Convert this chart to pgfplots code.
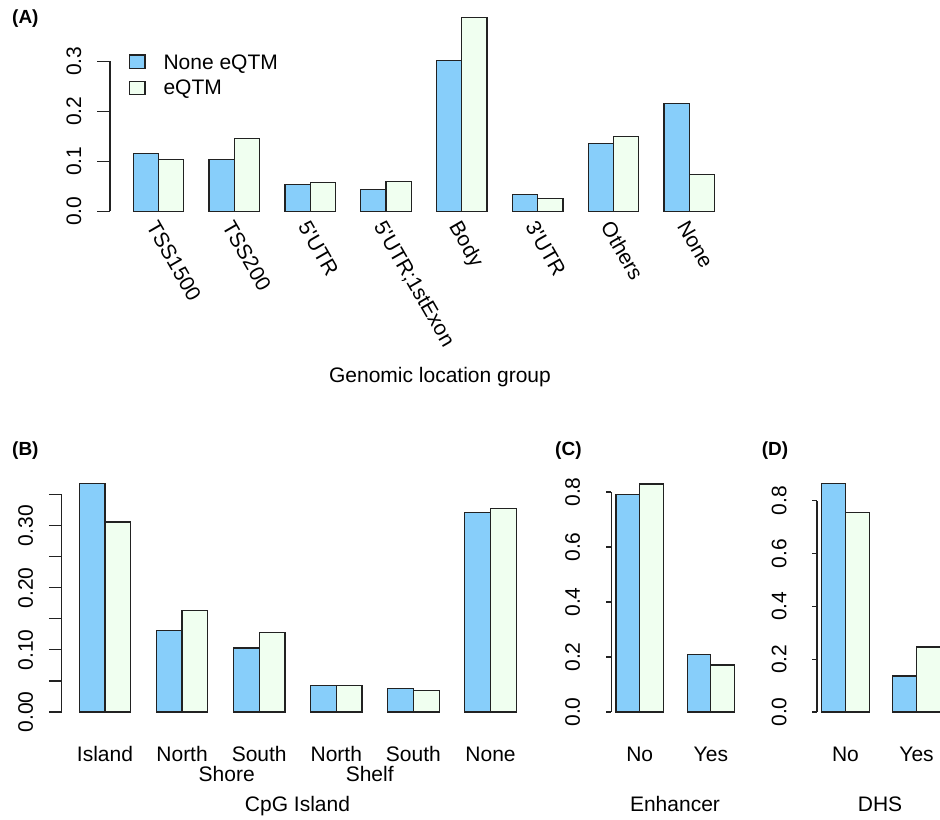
\documentclass[border=0pt]{standalone}
\usepackage{pgfplots}
\pgfplotsset{compat=1.18}
\usepackage{fontspec}
\newfontfamily\hv{Liberation Sans}
\definecolor{skyb}{HTML}{87CEFA}
\definecolor{honey}{HTML}{F0FFF0}
\definecolor{edge}{HTML}{222222}
\newcommand\fnt{\hv\fontsize{21bp}{25bp}\selectfont}
\pgfplotsset{
  base/.style={
    scale only axis, anchor=south west,
    axis lines*=left, axis line style={draw=none},
    xtick style={draw=none},
    ytick align=outside,
    ytick style={line width=1.2bp, draw=edge},
    clip=false,
    yticklabel style={rotate=90, anchor=south, inner sep=0pt},
    tick label style={font=\fnt},
    ybar, bar width=1, bar shift=0pt,
    every axis plot/.append style={draw=edge, line width=1.2bp},
  },
  blue/.style={fill=skyb},
  green/.style={fill=honey},
}
\begin{document}
\fnt
\begin{tikzpicture}[x=1bp,y=1bp]
\useasboundingbox (0,0) rectangle (940,820);

% ---------------- Panel A ----------------
\begin{axis}[base,
  at={(110bp,601bp)}, width=627.8bp, height=208.9bp,
  xmin=0.08, xmax=24.92, ymin=-0.0155, ymax=0.4025,
  ytick={0,0.1,0.2,0.3}, yticklabels={0.0,0.1,0.2,0.3},
  major tick length=13bp,
  yticklabel shift=15.5bp,
  xticklabel shift=-13bp,
  xtick={2,5,8,11,14,17,20,23},
  xticklabels={TSS1500,TSS200,5'UTR,5'UTR;1stExon,Body,3'UTR,Others,None},
  xticklabel style={rotate=-60, anchor=north west, inner sep=0pt},
]
\addplot[blue] coordinates {(1.5,0.115) (4.5,0.104) (7.5,0.053) (10.5,0.043) (13.5,0.302) (16.5,0.033) (19.5,0.135) (22.5,0.215)};
\addplot[green] coordinates {(2.5,0.104) (5.5,0.145) (8.5,0.058) (11.5,0.059) (14.5,0.387) (17.5,0.025) (20.5,0.149) (23.5,0.074)};
\draw[line width=1.2bp, edge] (axis cs:0.08,0) -- (axis cs:0.08,0.3);
\end{axis}

% ---------------- Panel B ----------------
\begin{axis}[base,
  at={(61.8bp,98.9bp)}, width=471.9bp, height=246.6bp,
  xmin=0.32, xmax=18.68, ymin=-0.0147, ymax=0.3824,
  ytick={0,0.05,0.10,0.15,0.20,0.25,0.30,0.35},
  yticklabels={0.00,,0.10,,0.20,,0.30,},
  major tick length=13bp,
  yticklabel shift=15.5bp,
  xticklabel shift=-13bp,
  xtick={2,5,8,11,14,17},
  xticklabels={Island,North,South,North,South,None},
  xticklabel style={anchor=base, inner sep=0pt, yshift=-40.6bp},
]
\addplot[blue] coordinates {(1.5,0.368) (4.5,0.131) (7.5,0.103) (10.5,0.042) (13.5,0.038) (16.5,0.321)};
\addplot[green] coordinates {(2.5,0.306) (5.5,0.163) (8.5,0.128) (11.5,0.043) (14.5,0.035) (17.5,0.327)};
\draw[line width=1.2bp, edge] (axis cs:0.32,0) -- (axis cs:0.32,0.35);
\end{axis}

% ---------------- Panel C ----------------
\begin{axis}[base,
  at={(611.3bp,98.9bp)}, width=128bp, height=246.2bp,
  xmin=0.8, xmax=6.2, ymin=-0.0332, ymax=0.8622,
  ytick={0,0.2,0.4,0.6,0.8}, yticklabels={0.0,0.2,0.4,0.6,0.8},
  major tick length=5bp,
  yticklabel shift=26bp,
  xticklabel shift=-5bp,
  xtick={2,5}, xticklabels={No,Yes},
  xticklabel style={anchor=base, inner sep=0pt, yshift=-40.6bp},
]
\addplot[blue] coordinates {(1.5,0.792) (4.5,0.208)};
\addplot[green] coordinates {(2.5,0.829) (5.5,0.171)};
\draw[line width=1.2bp, edge] (axis cs:0.8,0) -- (axis cs:0.8,0.8);
\end{axis}

% ---------------- Panel D ----------------
\begin{axis}[base,
  at={(817bp,98.9bp)}, width=128bp, height=246.5bp,
  xmin=0.8, xmax=6.2, ymin=-0.0346, ymax=0.8986,
  ytick={0,0.2,0.4,0.6,0.8}, yticklabels={0.0,0.2,0.4,0.6,0.8},
  major tick length=5bp,
  yticklabel shift=25.3bp,
  xticklabel shift=-5bp,
  xtick={2,5}, xticklabels={No,Yes},
  xticklabel style={anchor=base, inner sep=0pt, yshift=-40.6bp},
]
\addplot[blue] coordinates {(1.5,0.864) (4.5,0.136)};
\addplot[green] coordinates {(2.5,0.754) (5.5,0.246)};
\draw[line width=1.2bp, edge] (axis cs:0.8,0) -- (axis cs:0.8,0.8);
\end{axis}

% ---------------- legend (A) ----------------
\draw[fill=skyb, draw=edge, line width=1.2bp] (129.3,751.7) rectangle (145,765);
\draw[fill=honey, draw=edge, line width=1.2bp] (129.3,725.7) rectangle (145,738.3);
\node[anchor=base west, inner sep=0pt, font=\fnt] at (163.3,750.5) {None eQTM};
\node[anchor=base west, inner sep=0pt, font=\fnt] at (163.3,725) {eQTM};

% ---------------- texts ----------------
\node[anchor=base, inner sep=0pt, font=\fnt] at (440,437.3) {Genomic location group};
\node[anchor=base, inner sep=0pt, font=\fnt] at (226.7,38) {Shore};
\node[anchor=base, inner sep=0pt, font=\fnt] at (369.7,38) {Shelf};
\node[anchor=base, inner sep=0pt, font=\fnt] at (297.5,8.3) {CpG Island};
\node[anchor=base, inner sep=0pt, font=\fnt] at (675,8.3) {Enhancer};
\node[anchor=base, inner sep=0pt, font=\fnt] at (880,8.3) {DHS};
\node[anchor=base west, inner sep=0pt, font=\hv\bfseries\fontsize{19bp}{22bp}\selectfont] at (12,796.5) {(A)};
\node[anchor=base west, inner sep=0pt, font=\hv\bfseries\fontsize{19bp}{22bp}\selectfont] at (12,364.5) {(B)};
\node[anchor=base west, inner sep=0pt, font=\hv\bfseries\fontsize{19bp}{22bp}\selectfont] at (555,364.5) {(C)};
\node[anchor=base west, inner sep=0pt, font=\hv\bfseries\fontsize{19bp}{22bp}\selectfont] at (761.7,364.5) {(D)};
\end{tikzpicture}
\end{document}
